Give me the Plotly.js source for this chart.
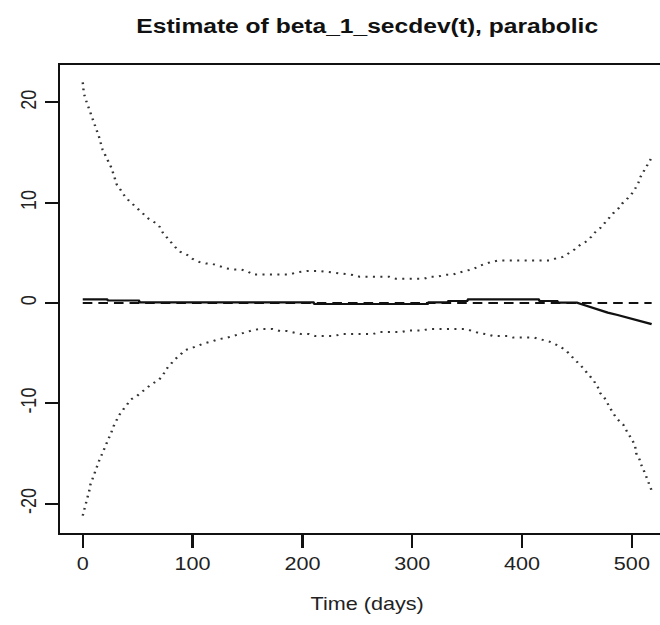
<!DOCTYPE html>
<html>
<head>
<meta charset="utf-8">
<script src="https://cdn.plot.ly/plotly-3.0.1.min.js"></script>
<style>
html,body{margin:0;padding:0;background:#fff;overflow:hidden;width:660px;height:625px;}
#chart{width:583px;height:625px;transform:scaleX(1.2);transform-origin:0 0;}
</style>
</head>
<body>
<div id="chart"></div>
<script>
// Time (days) for each series
var tUpper = [0,1,3,7,9,11,13,15,18,22,26,29,31,35,38,42,47,51,55,60,66,70,73,77,80,84,89,95,100,106,112,118,124,131,138,144,150,155,170,188,195,205,215,225,233,240,246,252,265,279,285,298,311,317,323,331,337,343,349,356,361,366,372,379,395,410,425,431,437,443,448,453,458,463,467,471,475,479,483,488,491,495,500,503,506,508,512,516,518];
var vUpper = [22.0,20.9,20.2,19.0,18.2,17.7,17.1,16.5,15.3,14.3,13.5,12.5,11.8,11.2,10.7,10.2,9.7,9.3,8.9,8.4,8.0,7.6,7.0,6.5,6.0,5.6,5.1,4.8,4.4,4.1,3.95,3.9,3.7,3.45,3.35,3.35,3.15,2.85,2.85,2.85,3.05,3.2,3.2,3.05,3.0,2.9,2.8,2.63,2.63,2.63,2.43,2.43,2.43,2.63,2.63,2.83,2.83,3.05,3.2,3.4,3.7,3.9,4.1,4.25,4.25,4.25,4.25,4.45,4.6,5.0,5.35,5.8,6.1,6.6,7.1,7.45,7.95,8.45,8.95,9.45,9.9,10.3,10.9,11.4,12.0,12.6,13.3,14.0,14.5];

var tLower = [0,1,3,4,6,7,9,12,15,17,19,22,24,26,28,31,33,37,40,44,49,54,59,64,69,73,76,80,84,88,93,99,106,111,117,124,130,137,143,149,155,161,173,180,186,193,199,206,212,228,236,264,270,290,296,308,315,349,354,361,367,374,387,392,411,417,425,430,435,441,445,449,454,458,461,465,469,471,475,478,480,483,487,492,495,498,501,503,504,507,508,512,516,518];
var vLower = [-21.2,-20.7,-20.0,-19.5,-18.7,-18.1,-17.5,-16.5,-15.7,-15.2,-14.7,-14.1,-13.5,-12.9,-12.3,-11.7,-11.2,-10.6,-10.2,-9.6,-9.3,-8.8,-8.4,-8.0,-7.7,-7.2,-6.6,-6.1,-5.6,-5.25,-4.7,-4.5,-4.2,-4.0,-3.85,-3.6,-3.5,-3.3,-3.1,-2.9,-2.7,-2.6,-2.6,-2.8,-2.8,-2.95,-3.1,-3.1,-3.3,-3.3,-3.1,-3.1,-2.9,-2.9,-2.75,-2.75,-2.6,-2.6,-2.8,-3.0,-3.1,-3.3,-3.3,-3.45,-3.45,-3.6,-3.85,-4.1,-4.35,-4.85,-5.25,-5.75,-6.3,-6.8,-7.2,-7.7,-8.4,-8.95,-9.45,-10.0,-10.5,-11.0,-11.6,-12.1,-12.7,-13.2,-13.8,-14.3,-15.0,-15.6,-16.0,-17.0,-18.0,-18.7];

var tEst = [0,22,23,51,52,210,211,314,315,332,333,350,351,415,416,432,433,450,455,461,469,478,487,496,507,518];
var vEst = [0.37,0.37,0.25,0.25,0.07,0.07,-0.1,-0.1,0.07,0.07,0.2,0.2,0.37,0.37,0.2,0.2,0.03,0.03,-0.15,-0.37,-0.63,-0.96,-1.2,-1.46,-1.76,-2.1];

var tZero = [0,518];
var vZero = [0,0];

var xTicks = [0,100,200,300,400,500];
var yTicks = [-20,-10,0,10,20];

var ink = '#111';
var traces = [
  {x:tZero, y:vZero, mode:'lines', line:{color:ink, width:2, dash:'8px,5px'}, hoverinfo:'skip'},
  {x:tUpper, y:vUpper, mode:'lines', line:{color:'#333', width:2, dash:'1.7px,4.5px'}, hoverinfo:'skip'},
  {x:tLower, y:vLower, mode:'lines', line:{color:'#333', width:2, dash:'1.7px,4.5px'}, hoverinfo:'skip'},
  {x:tEst, y:vEst, mode:'lines', line:{color:ink, width:2.2}, hoverinfo:'skip'}
];

var fontFam = 'Liberation Sans, Arial, Helvetica, sans-serif';
var layout = {
  width:583, height:625,
  margin:{l:50, r:21, t:65, b:92},
  paper_bgcolor:'#fff', plot_bgcolor:'#fff',
  showlegend:false,
  font:{family:fontFam, color:'#222', size:18},
  title:{text:'<b>Estimate of beta_1_secdev(t), parabolic</b>', font:{family:fontFam, size:20.5, color:'#111'},
         xref:'paper', x:0.5, xanchor:'center', yref:'container', y:1-26/625, yanchor:'middle'},
  xaxis:{range:[-20.72,538.72], tickmode:'array', tickvals:xTicks, ticktext:xTicks.map(String),
         ticks:'outside', ticklen:13, tickwidth:2, tickcolor:ink,
         showline:true, linecolor:ink, linewidth:2, mirror:true,
         showgrid:false, zeroline:false,
         tickfont:{size:18, family:fontFam, color:'#222'},
         title:{text:'Time (days)', font:{size:18, family:fontFam, color:'#222'}, standoff:25}},
  yaxis:{range:[-22.93,23.73], tickmode:'array', tickvals:yTicks, ticktext:yTicks.map(String),
         ticks:'outside', ticklen:11, tickwidth:2, tickcolor:ink, tickangle:-90,
         showline:true, linecolor:ink, linewidth:1.7, mirror:true,
         showgrid:false, zeroline:false,
         tickfont:{size:18, family:fontFam, color:'#222'}}
};

Plotly.newPlot('chart', traces, layout, {staticPlot:true, displayModeBar:false});
</script>
</body>
</html>
